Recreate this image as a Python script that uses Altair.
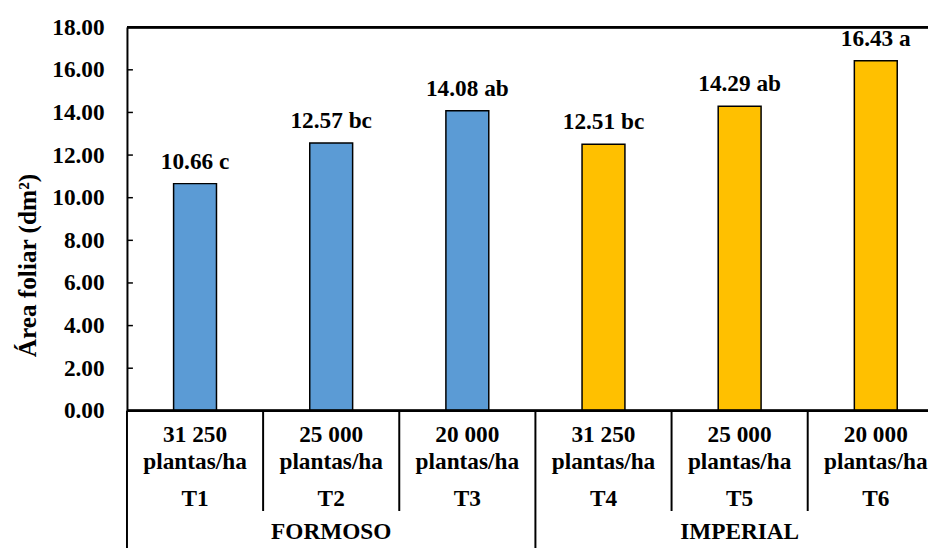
import altair as alt
import pandas as pd

treatments = ["T1", "T2", "T3", "T4", "T5", "T6"]
densities = ["31 250", "25 000", "20 000", "31 250", "25 000", "20 000"]
cultivars = ["FORMOSO", "FORMOSO", "FORMOSO", "IMPERIAL", "IMPERIAL", "IMPERIAL"]
values = [10.66, 12.57, 14.08, 12.51, 14.29, 16.43]
letters = ["c", "bc", "ab", "bc", "ab", "a"]
y_ticks = [0, 2, 4, 6, 8, 10, 12, 14, 16, 18]
inner_ticks = [2, 4, 6, 8, 10, 12, 14, 16]
colors = ["#5B9BD5", "#FFC000"]

FONT = "Liberation Serif"
FS = 23.5

df = pd.DataFrame({
    "t": treatments,
    "dens": densities,
    "cult": cultivars,
    "v": values,
    "lab": [f"{v:.2f} {l}" for v, l in zip(values, letters)],
})

xscale = alt.Scale(domain=treatments, range=[0, 824], paddingInner=0, paddingOuter=0)
yscale = alt.Scale(domain=[0, 18], nice=False)


def X(bp=0.5):
    return alt.X("t:N", scale=xscale, axis=None, bandPosition=bp)


base = alt.Chart(df)

bars = base.mark_bar(width={"band": 0.315}, stroke="black", strokeWidth=1.5).encode(
    x=X(),
    y=alt.Y(
        "v:Q",
        scale=yscale,
        axis=alt.Axis(
            values=y_ticks,
            format=".2f",
            ticks=False,
            grid=False,
            domainColor="black",
            domainWidth=2,
            labelFont=FONT,
            labelFontWeight="bold",
            labelFontSize=FS,
            labelColor="black",
            labelPadding=23,
            title="Área foliar (dm²)",
            titleFont=FONT,
            titleFontWeight="bold",
            titleFontSize=25.5,
            titleColor="black",
            titleAngle=270,
            titleAlign="center",
            titleBaseline="middle",
            titleX=-100,
            titleY=240,
        ),
    ),
    color=alt.Color("cult:N", scale=alt.Scale(domain=["FORMOSO", "IMPERIAL"], range=colors), legend=None),
)

value_text = base.mark_text(
    font=FONT, fontWeight="bold", fontSize=FS, baseline="alphabetic", dy=-15, color="black"
).encode(x=X(), y=alt.Y("v:Q", scale=yscale), text="lab:N")

ticks_df = pd.DataFrame({"v": inner_ticks})
ticks = alt.Chart(ticks_df).mark_rule(color="black", strokeWidth=1.5).encode(
    y=alt.Y("v:Q", scale=yscale), x=alt.value(0), x2=alt.value(6)
)

frame_top = alt.Chart(df).mark_rule(color="black", strokeWidth=2).encode(
    y=alt.value(0), x=alt.value(0), x2=alt.value(824)
)
frame_base = alt.Chart(df).mark_rule(color="black", strokeWidth=2).encode(
    y=alt.value(387), x=alt.value(0), x2=alt.value(824)
)

dens_text = base.mark_text(font=FONT, fontWeight="bold", fontSize=FS, baseline="alphabetic", color="black").encode(
    x=X(), y=alt.value(418), text="dens:N"
)
plant_text = base.mark_text(font=FONT, fontWeight="bold", fontSize=FS, baseline="alphabetic", color="black").encode(
    x=X(), y=alt.value(446), text=alt.value("plantas/ha")
)
t_text = base.mark_text(font=FONT, fontWeight="bold", fontSize=FS, baseline="alphabetic", color="black").encode(
    x=X(), y=alt.value(483), text="t:N"
)

# inner separators (left edge of 2nd and 3rd treatment in each cultivar)
inner_sep = base.transform_filter(
    alt.FieldOneOfPredicate(field="t", oneOf=["T2", "T3", "T5", "T6"])
).mark_rule(color="black", strokeWidth=2).encode(x=X(0), y=alt.value(387), y2=alt.value(488))

# group separators (left edge of first of each cultivar, right edge of the last)
group_sep_left = base.transform_filter(
    alt.FieldOneOfPredicate(field="t", oneOf=["T1", "T4"])
).mark_rule(color="black", strokeWidth=2).encode(x=X(0), y=alt.value(387), y2=alt.value(530))
group_sep_right = base.transform_filter(
    alt.FieldEqualPredicate(field="t", equal="T6")
).mark_rule(color="black", strokeWidth=2).encode(x=X(1), y=alt.value(387), y2=alt.value(530))

group_text = base.transform_filter(
    alt.FieldOneOfPredicate(field="t", oneOf=["T2", "T5"])
).mark_text(font=FONT, fontWeight="bold", fontSize=FS, baseline="alphabetic", color="black").encode(
    x=X(), y=alt.value(516), text="cult:N"
)

chart = alt.layer(
    bars, value_text, ticks, frame_top, frame_base,
    dens_text, plant_text, t_text, inner_sep, group_sep_left, group_sep_right, group_text,
).properties(
    width=808,
    height=387,
    autosize=alt.AutoSizeParams(type="none"),
    padding={"left": 120, "top": 17, "right": 0, "bottom": 136},
    background="white",
).configure_view(stroke=None)

chart.save("out.html", embed_options={"renderer": "svg", "actions": False})
